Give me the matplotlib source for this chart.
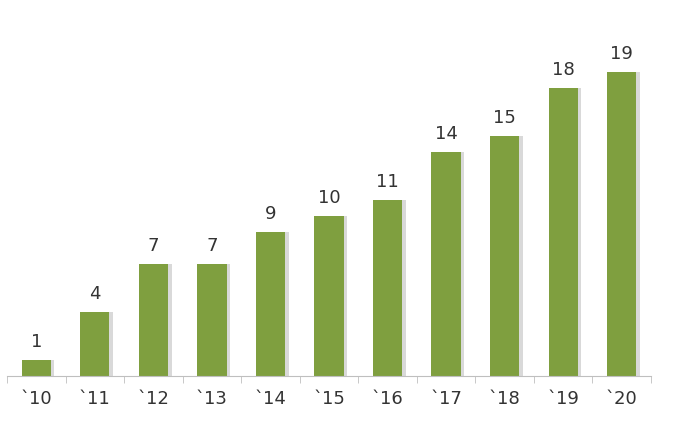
import matplotlib
matplotlib.use("Agg")
import matplotlib.pyplot as plt

years = ["`10","`11","`12","`13","`14","`15","`16","`17","`18","`19","`20"]
values = [1,4,7,7,9,10,11,14,15,18,19]

fig = plt.figure(figsize=(6.74,4.37), dpi=100)
ax = fig.add_axes([0.0104,0.1396,0.9555,0.77])
x = list(range(len(years)))
# soft shadow
ax.bar([i+0.06 for i in x], values, width=0.5, color="#d9d9d9", zorder=1)
ax.bar(x, values, width=0.5, color="#7f9f3f", zorder=2)
for i,v in zip(x,values):
    ax.text(i, v+0.55, str(v), ha="center", va="bottom", fontsize=13, color="#333333")
ax.set_xlim(-0.5,10.5)
ax.set_ylim(0,21)
ax.set_yticks([])
ax.set_xticks(x)
ax.set_xticklabels(years, fontsize=13, color="#333333")
ax.set_xticks([i-0.5 for i in range(12)], minor=True)
ax.tick_params(axis="x", which="major", length=0, pad=10)
ax.tick_params(axis="x", which="minor", length=5, color="#bfbfbf")
for s in ["top","right","left"]:
    ax.spines[s].set_visible(False)
ax.spines["bottom"].set_color("#bfbfbf")
fig.savefig("out.png", dpi=100)
